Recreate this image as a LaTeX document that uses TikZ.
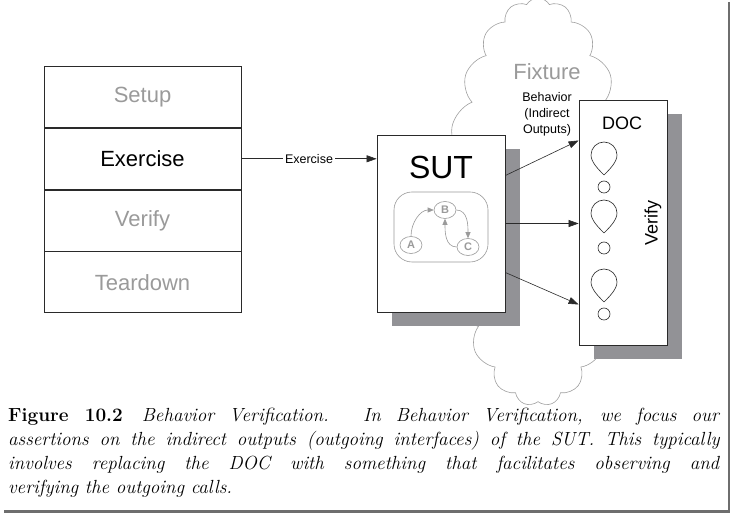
\documentclass[tikz,border=0pt]{standalone}
\usepackage{fontspec}
\newfontfamily\arial{Liberation Sans}
\usetikzlibrary{shapes.geometric, shapes.symbols, arrows.meta, positioning, calc, shadows}
\definecolor{StageGray}{HTML}{9A9A9A}
\definecolor{ShadowGray}{HTML}{929296}
\definecolor{CloudGray}{HTML}{A0A0A0}
\definecolor{LineBlack}{HTML}{2A2A2A}
\definecolor{FrameGray}{HTML}{6E6E6E}

\begin{document}
\begin{tikzpicture}[x=1pt, y=1pt,
    stage/.style={draw=LineBlack, line width=0.8pt, minimum width=197pt, minimum height=61pt,
        font=\arial\fontsize{22}{26}\selectfont, text=StageGray},
    box/.style={draw=LineBlack, line width=0.8pt, fill=white,
        drop shadow={shadow xshift=15pt, shadow yshift=-14pt, fill=ShadowGray, opacity=1}},
    state/.style={ellipse, draw=StageGray, line width=0.6pt, inner sep=0pt, minimum width=22pt,
        minimum height=17pt, font=\arial\bfseries\fontsize{11}{11}\selectfont, text=StageGray},
    flow/.style={draw=StageGray, line width=0.6pt, -{Triangle[length=6pt,width=5pt]}},
    call/.style={draw=LineBlack, line width=0.6pt, -{Triangle[length=10pt,width=7pt]}}]
    \useasboundingbox (0,0) rectangle (731,514);

    % Four phases of the test
    \node[stage] (setup) at (142.5,417) {Setup};
    \node[stage, below=0pt of setup, text=black] (exercise) {Exercise};
    \node[stage, below=0pt of exercise] (verify) {Verify};
    \node[stage, below=0pt of verify] (teardown) {Teardown};

    % Fixture cloud
    \node[cloud, cloud ignores aspect, cloud puffs=21, cloud puff arc=120, draw=CloudGray, fill=white,
        line width=0.6pt, minimum width=185pt, minimum height=408pt] (fixture) at (538,312) {};
    \node[font=\arial\fontsize{22}{26}\selectfont, text=StageGray] (fixlabel) at (547,442) {Fixture};

    % SUT with its inner logic
    \node[box, minimum width=128pt, minimum height=177pt] (sut) at (441,290.5) {};
    \node[font=\arial\fontsize{32}{32}\selectfont] (sutlabel) at (441,347) {SUT};
    \node[draw=StageGray, line width=0.6pt, rounded corners=18pt, minimum width=94pt,
        minimum height=70pt] (logic) at (441,287) {};
    \node[state] (a) at (411,269) {A};
    \node[state] (b) at (445,304) {B};
    \node[state] (c) at (468,267) {C};
    \draw[flow] (a.north) to[out=90, in=180] (b.west);
    \draw[flow] (b.east) to[out=0, in=90] (c.north);
    \draw[flow] (c.west) to[out=180, in=-90] (b.south);

    % DOC
    \node[box, minimum width=88pt, minimum height=245pt] (doc) at (623,291.5) {};
    \node[font=\arial\fontsize{18}{20}\selectfont] (doclabel) at (622,391) {DOC};
    \node[font=\arial\fontsize{18}{20}\selectfont, rotate=90] (doccheck) at (653,291) {Verify};
    \foreach \y/\c in {339/327, 281/266, 212/200} {
        \draw[LineBlack, line width=0.6pt, shift={(604,\y)}] (0,0) .. controls (-6,6) and (-13,13) .. (-13,20)
            arc[start angle=180, end angle=0, radius=13] .. controls (13,13) and (6,6) .. (0,0);
        \draw[LineBlack, line width=0.6pt] (604,\c) circle (6);
    }

    % Calls
    \draw[call] (exercise.east) -- (exercise.east -| sut.west)
        node[midway, fill=white, inner sep=2pt, font=\arial\fontsize{12.5}{13}\selectfont] (exlabel) {Exercise};
    \draw[call] ([yshift=48pt]sut.east) -- ([yshift=82pt]doc.west);
    \draw[call] (sut.east) -- (sut.east -| doc.west);
    \draw[call] ([yshift=-49pt]sut.east) -- ([yshift=-82pt]doc.west);
    \node[align=center, font=\arial\fontsize{12.5}{16}\selectfont] (behavior) at (547,400)
        {Behavior\\(Indirect\\Outputs)};

    % Caption
    \node[anchor=north west, inner sep=0pt, text width=712pt, align=justify,
        font=\fontsize{19}{24}\selectfont] (caption) at (8,106)
        {\hyphenpenalty=10000 \textbf{Figure~10.2}\quad\textit{Behavior Verification. In
        Behavior Verification, we focus our}\linebreak \textit{assertions on the indirect outputs
        (outgoing interfaces) of the SUT. This typically}\linebreak \textit{involves replacing the DOC
        with something that facilitates observing and}\linebreak \textit{verifying the outgoing calls.}};

    % Page shadow
    \draw[FrameGray, line width=2.5pt] (729,512) -- (729,2.5) -- (4,2.5);
\end{tikzpicture}
\end{document}
